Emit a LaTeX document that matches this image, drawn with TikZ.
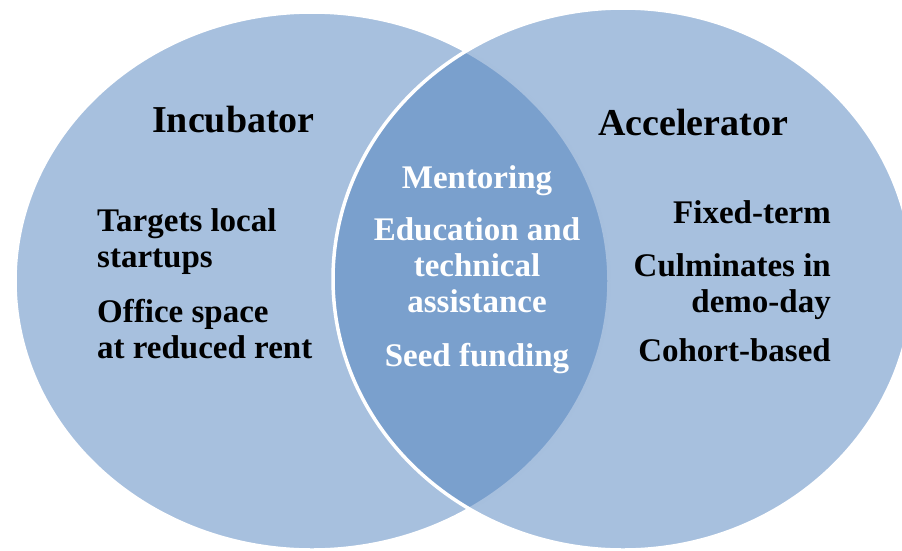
\documentclass[tikz,border=0pt]{standalone}
\usepackage{fontspec}
\setmainfont{Liberation Serif}
\definecolor{vennblue}{HTML}{4F81BD}
\begin{document}
\begin{tikzpicture}[x=1pt,y=-1pt,
  setshape/.style={fill=vennblue, fill opacity=0.5, draw=white, line width=3.5pt},
  heading/.style={font=\bfseries\fontsize{38}{40}\selectfont, inner sep=0pt},
  item/.style={font=\bfseries\fontsize{33}{36}\selectfont, inner sep=0pt},
  shared/.style={item, text=white, align=center, anchor=base},
]
\useasboundingbox (0,0) rectangle (902,550);
\clip (0,0) rectangle (902,550);

% the two overlapping sets
\path[setshape] (312,281) ellipse [x radius=297, y radius=269];
\path[setshape] (623,279) ellipse [x radius=290, y radius=271];

% headings
\node[heading, anchor=base west] (incubator) at (152,132) {Incubator};
\node[heading, anchor=base west] (accelerator) at (598,135) {Accelerator};

% incubator only (base anchor sits on the last line)
\node[item, align=left, anchor=base west] (targets) at (97,267) {Targets local\\startups};
\node[item, align=left, anchor=base west] (office) at (97,358) {Office space\\at reduced rent};

% common to both
\node[shared] (mentoring) at (477,188) {Mentoring};
\node[shared] (education) at (477,312) {Education and\\technical\\assistance};
\node[shared] (seed) at (477,366) {Seed funding};

% accelerator only
\node[item, align=right, anchor=base east] (fixed) at (831,223) {Fixed-term};
\node[item, align=right, anchor=base east] (demo) at (831,312) {Culminates in\\demo-day};
\node[item, align=right, anchor=base east] (cohort) at (831,361) {Cohort-based};
\end{tikzpicture}
\end{document}
